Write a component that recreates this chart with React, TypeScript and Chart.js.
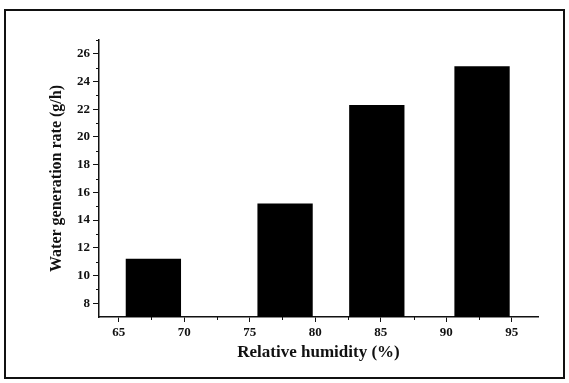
import React, { useEffect, useRef } from "react";
import { Chart, registerables } from "chart.js";

Chart.register(...registerables);

// Data
const humidityCenters = [67.65, 77.7, 84.7, 92.73];
const waterRates = [11.2, 15.2, 22.3, 25.1];
const xMajorTicks = [65, 70, 75, 80, 85, 90, 95];
const xMinorTicks = [67.5, 72.5, 77.5, 82.5, 87.5, 92.5];
const yMajorTicks = [8, 10, 12, 14, 16, 18, 20, 22, 24, 26];
const yMinorTicks = [9, 11, 13, 15, 17, 19, 21, 23, 25, 27];
const xTitle = "Relative humidity (%)";
const yTitle = "Water generation rate (g/h)";

const FONT = '"Liberation Serif", "Times New Roman", serif';

const minorTicksPlugin = {
  id: "minorTicks",
  afterDraw(chart: any) {
    const { ctx, scales } = chart;
    const x = scales.x;
    const y = scales.y;
    ctx.save();
    ctx.strokeStyle = "#111";
    ctx.lineWidth = 1;
    for (const v of xMinorTicks) {
      const px = Math.round(x.getPixelForValue(v)) + 0.5;
      ctx.beginPath();
      ctx.moveTo(px, x.top);
      ctx.lineTo(px, x.top + 3);
      ctx.stroke();
    }
    for (const v of yMinorTicks) {
      const py = Math.round(y.getPixelForValue(v)) + 0.5;
      ctx.beginPath();
      ctx.moveTo(y.right, py);
      ctx.lineTo(y.right - 3, py);
      ctx.stroke();
    }
    ctx.restore();
  },
};

export default function App() {
  const ref = useRef<HTMLCanvasElement | null>(null);

  useEffect(() => {
    if (!ref.current) return;
    const chart = new Chart(ref.current, {
      type: "bar",
      data: {
        datasets: [
          {
            data: humidityCenters.map((h, i) => ({ x: h, y: waterRates[i] })),
            backgroundColor: "#000",
            borderWidth: 0,
            barPercentage: 0.844,
            categoryPercentage: 1,
          },
        ],
      },
      options: {
        animation: false,
        responsive: false,
        devicePixelRatio: 1,
        layout: { padding: { left: 0, top: 40, right: 31, bottom: 0 } },
        plugins: { legend: { display: false }, tooltip: { enabled: false } },
        scales: {
          x: {
            type: "linear",
            min: 63.5,
            max: 97,
            offset: false,
            afterBuildTicks: (scale: any) => {
              scale.ticks = xMajorTicks.map((v) => ({ value: v }));
            },
            afterFit: (scale: any) => {
              scale.height = 66;
            },
            grid: {
              offset: false,
              drawOnChartArea: false,
              drawTicks: true,
              tickLength: 5,
              tickColor: "#111",
              tickWidth: 1,
            },
            border: { display: true, color: "#111", width: 1.5 },
            ticks: {
              color: "#111",
              padding: 3,
              maxRotation: 0,
              autoSkip: false,
              font: { family: FONT, size: 13, weight: "bold" },
            },
            title: {
              display: true,
              text: xTitle,
              color: "#111",
              font: { family: FONT, size: 17, weight: "bold" },
              padding: { top: 0, bottom: 20 },
            },
          },
          y: {
            type: "linear",
            min: 7,
            max: 27,
            afterBuildTicks: (scale: any) => {
              scale.ticks = yMajorTicks.map((v) => ({ value: v }));
            },
            afterFit: (scale: any) => {
              scale.width = 99;
            },
            grid: {
              drawOnChartArea: false,
              drawTicks: true,
              tickLength: 6,
              tickColor: "#111",
              tickWidth: 1,
            },
            border: { display: true, color: "#111", width: 1.5 },
            ticks: {
              color: "#111",
              padding: 3,
              autoSkip: false,
              font: { family: FONT, size: 13, weight: "bold" },
            },
            title: {
              display: true,
              text: yTitle,
              color: "#111",
              font: { family: FONT, size: 16, weight: "bold" },
              padding: { top: 47, bottom: 0 },
            },
          },
        },
      },
      plugins: [minorTicksPlugin],
    });
    return () => chart.destroy();
  }, []);

  return (
    <div style={{ position: "absolute", left: 0, top: 0, width: 569, height: 383, background: "#fff" }}>
      <div
        style={{
          position: "absolute",
          left: 4,
          top: 9,
          width: 561,
          height: 370,
          border: "2px solid #111",
          boxSizing: "border-box",
        }}
      />
      <canvas
        ref={ref}
        width={569}
        height={383}
        style={{ position: "absolute", left: 0, top: 0, width: 569, height: 383 }}
      />
    </div>
  );
}
